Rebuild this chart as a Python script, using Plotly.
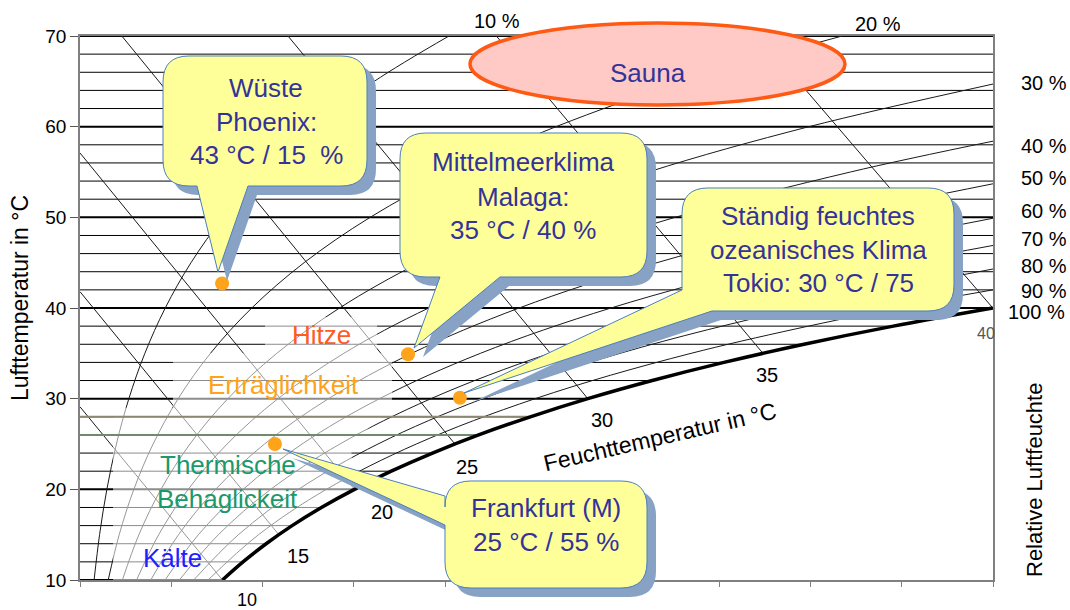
import plotly.graph_objects as go

# ---------------- data ----------------
XMAX = 48.9  # humidity ratio (g/kg) at right edge

# relative humidity curves: temperature (°C) and humidity ratio x (g/kg)
T_STD = [10, 15, 20, 25, 30, 35, 40, 45, 50, 55, 60, 65, 70]
rh10_T = T_STD
rh10_x = [0.755, 1.048, 1.439, 1.951, 2.617, 3.474, 4.566, 5.945, 7.675, 9.827, 12.493, 15.761, 19.761]
rh20_T = T_STD
rh20_x = [1.511, 2.100, 2.885, 3.915, 5.257, 6.987, 9.200, 12.005, 15.541, 19.970, 25.497, 32.341, 40.819]
rh30_T = [10, 15, 20, 25, 30, 35, 40, 45, 50, 55, 60, 64.7]
rh30_x = [2.270, 3.156, 4.338, 5.891, 7.919, 10.540, 13.902, 18.183, 23.607, 30.444, 39.046, 48.9]
rh40_T = [10, 15, 20, 25, 30, 35, 40, 45, 50, 55, 58.4]
rh40_x = [3.030, 4.215, 5.797, 7.880, 10.604, 14.133, 18.676, 24.482, 31.879, 41.265, 48.9]
rh50_T = [10, 15, 20, 25, 30, 35, 40, 45, 50, 53.7]
rh50_x = [3.792, 5.278, 7.263, 9.881, 13.311, 17.768, 23.521, 30.907, 40.366, 48.9]
rh60_T = [10, 15, 20, 25, 30, 35, 40, 45, 49.9]
rh60_x = [4.556, 6.344, 8.736, 11.895, 16.042, 21.444, 28.440, 37.461, 48.9]
rh70_T = [10, 15, 20, 25, 30, 35, 40, 45, 46.9]
rh70_x = [5.322, 7.414, 10.216, 13.922, 18.797, 25.162, 33.435, 44.147, 48.9]
rh80_T = [10, 15, 20, 25, 30, 35, 40, 44.3]
rh80_x = [6.090, 8.487, 11.703, 15.962, 21.575, 28.924, 38.507, 48.9]
rh90_T = [10, 15, 20, 25, 30, 35, 40, 42.0]
rh90_x = [6.859, 9.565, 13.197, 18.015, 24.378, 32.730, 43.659, 48.9]

# saturation curve (100 %)
sat_T = [10, 12, 14, 16, 18, 20, 22, 24, 26, 28, 30, 32, 34, 36, 38, 40]
sat_x = [7.63, 8.73, 9.97, 11.36, 12.93, 14.70, 16.67, 18.88, 21.35, 24.12,
         27.20, 30.65, 34.49, 38.78, 43.56, 48.89]

# wet-bulb lines (Feuchttemperatur)
wb_labels = [10, 15, 20, 25, 30, 35, 40]
wb_x0 = [0, 0, 0, 2.24, 11.14, 22.30, 36.39]
wb_T0 = [29.1, 41.8, 57.1, 70, 70, 70, 70]
wb_x1 = [7.63, 10.65, 14.70, 20.08, 27.20, 36.58, 48.89]
wb_T1 = [10, 15, 20, 25, 30, 35, 40]

# isotherms every 2 °C
iso_T = list(range(10, 72, 2))

# comfort zone outline (approx.)
zone_x = [1.77, 1.77, 4.98, 4.98, 9.91, 9.91, 15.91, 15.91, 16.71, 16.71, 14.5,
          14.70, 12.93, 11.36, 9.97, 8.73, 7.63]
zone_T = [10, 29, 29, 35, 35, 39, 39, 35, 35, 29, 25, 20, 18, 16, 14, 12, 10]

# climate points
city = ["Phoenix", "Malaga", "Tokio", "Frankfurt"]
city_T = [42.7, 34.9, 30.1, 25.0]
city_x = [7.61, 17.57, 20.35, 10.44]

FONT = "Arial, Liberation Sans, sans-serif"
TXT = "#333399"

# ---------------- pixel helpers for decoration ----------------
L, R, TOP, BOT = 80, 993, 36, 580


def px(x):
    return (x - L) / (R - L)


def py(y):
    return (BOT - y) / (BOT - TOP)


def P(x, y, d=0):
    return f"{px(x + d):.5f},{py(y + d):.5f}"


def callout(x0, y0, x1, y1, r, side, ptr, d=0):
    s = f"M{P(x0 + r, y0, d)} L{P(x1 - r, y0, d)} Q{P(x1, y0, d)} {P(x1, y0 + r, d)} "
    s += f"L{P(x1, y1 - r, d)} Q{P(x1, y1, d)} {P(x1 - r, y1, d)} "
    if side == "bottom":
        b1, b2, tx, ty = ptr
        s += f"L{P(b2, y1, d)} L{P(tx, ty, d)} L{P(b1, y1, d)} "
        s += f"L{P(x0 + r, y1, d)} Q{P(x0, y1, d)} {P(x0, y1 - r, d)} "
    elif side == "left":
        b1, b2, tx, ty = ptr
        s += f"L{P(x0 + r, y1, d)} Q{P(x0, y1, d)} {P(x0, y1 - r, d)} "
        s += f"L{P(x0, b2, d)} L{P(tx, ty, d)} L{P(x0, b1, d)} "
    else:  # corner bottom-left
        bx, by, tx, ty = ptr
        s += f"L{P(bx, y1, d)} L{P(tx, ty, d)} L{P(x0, by, d)} "
    s += f"L{P(x0, y0 + r, d)} Q{P(x0, y0, d)} {P(x0 + r, y0, d)} Z"
    return s


fig = go.Figure()

# isotherms
for i, t in enumerate(iso_T):
    xend = sat_x[sat_T.index(t)] if t in sat_T else XMAX
    fig.add_trace(go.Scatter(x=[0, xend], y=[t, t], mode="lines",
                             line=dict(color="black", width=2 if t % 10 == 0 else 1),
                             hoverinfo="skip"))

# RH curves
for xs, ts in [(rh10_x, rh10_T), (rh20_x, rh20_T), (rh30_x, rh30_T), (rh40_x, rh40_T),
               (rh50_x, rh50_T), (rh60_x, rh60_T), (rh70_x, rh70_T), (rh80_x, rh80_T),
               (rh90_x, rh90_T)]:
    fig.add_trace(go.Scatter(x=xs, y=ts, mode="lines",
                             line=dict(color="#1a1a1a", width=1, shape="spline"),
                             hoverinfo="skip"))

# wet-bulb lines
for a, b, c, d in zip(wb_x0, wb_T0, wb_x1, wb_T1):
    fig.add_trace(go.Scatter(x=[a, c], y=[b, d], mode="lines",
                             line=dict(color="#1a1a1a", width=1), hoverinfo="skip"))

# comfort zone wash
fig.add_trace(go.Scatter(x=zone_x, y=zone_T, mode="lines", fill="toself",
                         fillcolor="rgba(255,255,255,0.55)", line=dict(width=0),
                         hoverinfo="skip"))

# olive lines at 26 / 28 °C
for t, col in [(28, "#8a8870"), (26, "#6f8a6c")]:
    fig.add_trace(go.Scatter(x=[0, sat_x[sat_T.index(t)]], y=[t, t], mode="lines",
                             line=dict(color=col, width=2), hoverinfo="skip"))

# saturation curve
fig.add_trace(go.Scatter(x=sat_x, y=sat_T, mode="lines",
                         line=dict(color="black", width=3.5, shape="spline"),
                         hoverinfo="skip"))

# city points
fig.add_trace(go.Scatter(x=city_x, y=city_T, mode="markers", text=city,
                         marker=dict(color="#ffa31a", size=14, line=dict(width=0))))

# ---------------- decorations ----------------
shapes = []
FILL, EDGE, SHADOW = "#ffff99", "#4a7ebb", "#87a2c4"
boxes = [
    (163, 56, 367, 186, 26, "bottom", (197, 248, 218, 272)),
    (400, 133, 647, 277, 26, "bottom", (440, 500, 414, 348)),
    (682, 188, 954, 311, 26, "corner", (712, 290, 464, 393)),
    (445, 481, 647, 588, 26, "left", (496, 525, 283, 449)),
]
for b in boxes:
    shapes.append(dict(type="path", xref="paper", yref="paper", layer="above",
                       path=callout(*b, d=9), fillcolor=SHADOW, line=dict(width=0)))
for b in boxes:
    shapes.append(dict(type="path", xref="paper", yref="paper", layer="above",
                       path=callout(*b), fillcolor=FILL, line=dict(color=EDGE, width=1)))

# Sauna ellipse
shapes.append(dict(type="circle", xref="paper", yref="paper", layer="above",
                   x0=px(470), x1=px(845), y0=py(105), y1=py(23),
                   fillcolor="#ffc9c6", line=dict(color="#ff5a14", width=3.5)))

ann = []


def text(x, y, s, size, color="black", angle=0, xanchor="center"):
    ann.append(dict(x=px(x), y=py(y), xref="paper", yref="paper", text=s, showarrow=False,
                    font=dict(family=FONT, size=size, color=color), textangle=angle,
                    xanchor=xanchor, yanchor="middle"))


BIG = 26
# callout text
for yy, s in [(88, "Wüste"), (122, "Phoenix:"), (155, "43 °C / 15\u00a0 %")]:
    text(266, yy, s, BIG, TXT)
for yy, s in [(162, "Mittelmeerklima"), (197, "Malaga:"), (230, "35 °C / 40 %")]:
    text(523, yy, s, BIG, TXT)
for yy, s in [(216, "Ständig feuchtes"), (250, "ozeanisches Klima"), (283, "Tokio: 30 °C / 75")]:
    text(818, yy, s, BIG, TXT)
for yy, s in [(508, "Frankfurt (M)"), (542, "25 °C / 55 %")]:
    text(546, yy, s, BIG, TXT)
text(648, 73, "Sauna", BIG, TXT)

# zone labels
text(321, 335, "Hitze", BIG, "#ff5a1f")
text(283, 385, "Erträglichkeit", BIG, "#ffa31a")
text(228, 465, "Thermische", BIG, "#1a9a6a")
text(227, 499, "Behaglickeit", BIG, "#1a9a6a")
text(172, 558, "Kälte", BIG, "#1e1eff")

# wet-bulb labels
for (x, y), lab in zip([(247, 600), (298, 556), (382, 512), (467, 467), (602, 420), (767, 375)],
                       wb_labels[:6]):
    text(x, y, str(lab), 18 if lab == 10 else 20)
text(986, 333, str(wb_labels[6]), 16, "#555555")
text(660, 437, "Feuchttemperatur in °C", 23, angle=-13)

# RH labels
text(497, 21, "10 %", 20)
text(878, 24, "20 %", 20)
for y, lab in [(83, 30), (146, 40), (178, 50), (211, 60), (239, 70), (266, 80), (291, 90)]:
    text(1044, y, f"{lab} %", 20)
text(1036, 312, "100 %", 20)
text(1034, 480, "Relative Luftfeuchte", 22, angle=-90)
text(20, 298, "Lufttemperatur in °C", 23, angle=-90)

fig.update_layout(
    width=1070, height=610, margin=dict(l=80, r=77, t=36, b=30),
    paper_bgcolor="white", plot_bgcolor="white", showlegend=False,
    shapes=shapes, annotations=ann, font=dict(family=FONT),
    xaxis=dict(range=[0, XMAX], showgrid=False, zeroline=False, showline=True,
               linecolor="#808080", linewidth=1.5, mirror=True, ticks="outside",
               tickcolor="#808080", ticklen=5, tick0=0, dtick=XMAX / 10,
               showticklabels=False),
    yaxis=dict(range=[10, 70], dtick=10, showgrid=False, zeroline=False, showline=True,
               linecolor="#808080", linewidth=1.5, mirror=True, ticks="outside",
               tickcolor="#555555", ticklen=8,
               tickfont=dict(family=FONT, size=19, color="black")),
)

fig.write_html("out.html", config={"displayModeBar": False})

# remove the default page margin so the figure sits at the window's top-left corner
with open("out.html", encoding="utf-8") as f:
    html = f.read()
html = html.replace("<head>", "<head><style>html,body{margin:0;padding:0;}</style>", 1)
with open("out.html", "w", encoding="utf-8") as f:
    f.write(html)
